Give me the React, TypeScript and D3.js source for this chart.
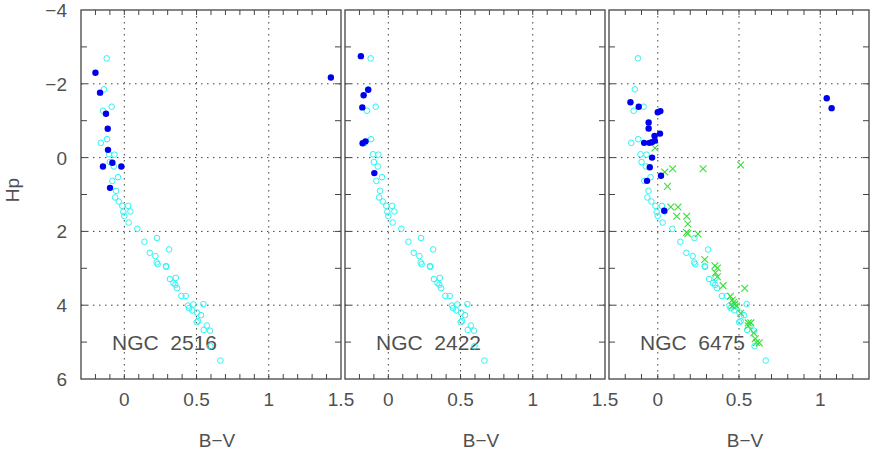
import { useEffect, useRef } from "react";
import * as d3 from "d3";

// reference sequence (open cyan circles), same in every panel: [B-V, Hp]
const refSeq: [number, number][] = [
  [-0.122, -2.69], [-0.141, -1.85], [-0.087, -1.38], [-0.148, -1.27], [-0.12, -0.5],
  [-0.163, -0.4], [-0.106, -0.09], [-0.069, -0.08], [-0.1, 0.12], [-0.073, 0.24],
  [-0.044, 0.53], [-0.083, 0.63], [-0.057, 0.9], [-0.064, 1.08], [-0.039, 1.19],
  [-0.014, 1.31], [0.026, 1.31], [-0.007, 1.47], [0.042, 1.46], [0.0, 1.58],
  [0.03, 1.76], [0.09, 1.93], [0.139, 2.28], [0.226, 2.18], [0.176, 2.58],
  [0.215, 2.67], [0.31, 2.49], [0.224, 2.84], [0.231, 2.89], [0.289, 2.94],
  [0.291, 2.96], [0.316, 3.29], [0.356, 3.26], [0.34, 3.4], [0.353, 3.45],
  [0.365, 3.54], [0.395, 3.75], [0.425, 3.75], [0.478, 3.98], [0.547, 3.97],
  [0.441, 4.01], [0.448, 4.08], [0.471, 4.14], [0.503, 4.2], [0.531, 4.27],
  [0.51, 4.43], [0.501, 4.46], [0.571, 4.55], [0.55, 4.67], [0.593, 4.69],
  [0.596, 5.11], [0.665, 5.5],
];

// cluster members (filled blue)
const ngc2516: [number, number][] = [
  [-0.2, -2.3], [-0.168, -1.76], [-0.127, -1.19], [-0.115, -0.78], [-0.113, -0.21],
  [-0.083, 0.14], [-0.148, 0.24], [-0.021, 0.24], [-0.099, 0.82], [1.43, -2.17],
];
const ngc2422: [number, number][] = [
  [-0.19, -2.75], [-0.139, -1.84], [-0.171, -1.69], [-0.18, -1.36], [-0.158, -0.44],
  [-0.178, -0.39], [-0.097, 0.42],
];
const ngc6475: [number, number][] = [
  [-0.168, -1.5], [-0.117, -1.38], [0.0, -1.23], [0.016, -1.26], [-0.056, -0.95],
  [-0.056, -0.79], [0.014, -0.65], [-0.02, -0.59], [-0.084, -0.4], [-0.051, -0.4],
  [-0.035, -0.42], [-0.018, -0.46], [-0.035, 0.0], [-0.049, 0.26], [0.02, 0.49],
  [-0.066, 0.63], [0.04, 1.44], [1.04, -1.61], [1.07, -1.34],
];
// NGC 6475 second sample (green crosses)
const ngc6475Cross: [number, number][] = [
  [-0.017, -0.26], [0.043, 0.39], [0.092, 0.3], [0.279, 0.3], [0.51, 0.2],
  [0.06, 0.78], [0.08, 1.34], [0.125, 1.34], [0.117, 1.59], [0.178, 1.59],
  [0.185, 1.8], [0.177, 2.03], [0.185, 2.06], [0.248, 2.07], [0.289, 2.76],
  [0.352, 2.93], [0.367, 2.99], [0.355, 3.12], [0.367, 3.23], [0.402, 3.47],
  [0.535, 3.54], [0.447, 3.76], [0.459, 3.86], [0.467, 3.92], [0.475, 3.97],
  [0.459, 4.02], [0.484, 4.02], [0.51, 4.22], [0.557, 4.48], [0.573, 4.48],
  [0.557, 4.56], [0.59, 4.75], [0.6, 4.91], [0.625, 5.02], [0.607, 5.01],
];

const panels = [
  { name: "NGC  2516", xMax: 1.5, xLabels: [0, 0.5, 1, 1.5], members: ngc2516, crosses: [] as [number, number][] },
  { name: "NGC  2422", xMax: 1.5, xLabels: [0, 0.5, 1, 1.5], members: ngc2422, crosses: [] as [number, number][] },
  { name: "NGC  6475", xMax: 1.3, xLabels: [0, 0.5, 1], members: ngc6475, crosses: ngc6475Cross },
];
const yLabels = [-4, -2, 0, 2, 4, 6];
const yGrid = [-2, 0, 2, 4];
const xGrid = [0, 0.5, 1];

const FONT = "'Liberation Sans', Arial, sans-serif";
const INK = "#444";
const TXT = "#505050";

export default function App() {
  const svgRef = useRef<SVGSVGElement>(null);

  useEffect(() => {
    const svg = d3.select(svgRef.current);
    svg.selectAll("*").remove();

    const top = 10, bottom = 379, pw = 260;
    const lefts = [81, 345, 609];

    const y = d3.scaleLinear().domain([-4, 6]).range([top, bottom]);

    panels.forEach((p, i) => {
      const x = d3.scaleLinear().domain([-0.3, p.xMax]).range([lefts[i], lefts[i] + pw]);
      const g = svg.append("g");

      // grid
      g.selectAll(".hg").data(yGrid).join("line")
        .attr("x1", lefts[i]).attr("x2", lefts[i] + pw)
        .attr("y1", d => y(d)).attr("y2", d => y(d))
        .attr("stroke", INK).attr("stroke-width", 1).attr("stroke-dasharray", "1.5,4.5");
      g.selectAll(".vg").data(xGrid).join("line")
        .attr("x1", d => x(d)).attr("x2", d => x(d))
        .attr("y1", top).attr("y2", bottom)
        .attr("stroke", INK).attr("stroke-width", 1).attr("stroke-dasharray", "1.5,4.5");

      // minor x ticks (top and bottom, inward)
      const xt = d3.range(-2, Math.round(p.xMax * 10)).map(d => d / 10);
      xt.forEach(v => {
        g.append("line").attr("x1", x(v)).attr("x2", x(v)).attr("y1", top).attr("y2", top + 5).attr("stroke", INK);
        g.append("line").attr("x1", x(v)).attr("x2", x(v)).attr("y1", bottom).attr("y2", bottom - 5).attr("stroke", INK);
      });
      // y ticks
      d3.range(-3, 6).forEach(v => {
        g.append("line").attr("x1", lefts[i]).attr("x2", lefts[i] + 6).attr("y1", y(v)).attr("y2", y(v)).attr("stroke", INK);
        g.append("line").attr("x1", lefts[i] + pw).attr("x2", lefts[i] + pw - 6).attr("y1", y(v)).attr("y2", y(v)).attr("stroke", INK);
      });

      // frame
      g.append("rect").attr("x", lefts[i]).attr("y", top).attr("width", pw).attr("height", bottom - top)
        .attr("fill", "none").attr("stroke", INK).attr("stroke-width", 1.3);

      // x tick labels
      g.selectAll(".xl").data(p.xLabels).join("text")
        .attr("x", d => x(d)).attr("y", 406)
        .attr("text-anchor", "middle")
        .attr("font-family", FONT).attr("font-size", 19).attr("fill", TXT)
        .text(d => String(d));

      g.append("text").attr("x", lefts[i] + pw / 2 + 6).attr("y", 447)
        .attr("text-anchor", "middle")
        .attr("font-family", FONT).attr("font-size", 19).attr("fill", TXT)
        .text("B\u2212V");

      // cluster name
      g.append("text").attr("x", lefts[i] + 31).attr("y", 350)
        .attr("font-family", FONT).attr("font-size", 21).attr("fill", TXT)
        .text(p.name.replace(/ /g, "\u00a0"));

      // reference sequence
      g.selectAll(".ref").data(refSeq).join("circle")
        .attr("cx", d => x(d[0])).attr("cy", d => y(d[1])).attr("r", 2.8)
        .attr("fill", "none").attr("stroke", "#2ef4f4").attr("stroke-width", 1);

      // crosses
      g.selectAll(".cr").data(p.crosses).join("path")
        .attr("d", d => {
          const cx = x(d[0]), cy = y(d[1]), s = 3.4;
          return `M${cx - s},${cy - s}L${cx + s},${cy + s}M${cx - s},${cy + s}L${cx + s},${cy - s}`;
        })
        .attr("stroke", "#3ade3a").attr("stroke-width", 1.1).attr("fill", "none");

      // members
      g.selectAll(".mem").data(p.members).join("circle")
        .attr("cx", d => x(d[0])).attr("cy", d => y(d[1])).attr("r", 3.2)
        .attr("fill", "#0000ee");
    });

    // y labels
    svg.selectAll(".yl").data(yLabels).join("text")
      .attr("x", 67).attr("y", d => y(d) + 7)
      .attr("text-anchor", "end")
      .attr("font-family", FONT).attr("font-size", 19).attr("fill", TXT)
      .text(d => (d < 0 ? "\u2212" + Math.abs(d) : String(d)));

    svg.append("text")
      .attr("transform", "translate(19,190) rotate(-90)")
      .attr("text-anchor", "middle")
      .attr("font-family", FONT).attr("font-size", 19).attr("fill", TXT)
      .text("Hp");
  }, []);

  return (
    <svg ref={svgRef} width={872} height={450}
      style={{ position: "absolute", left: 0, top: 0, background: "#fff" }} />
  );
}
